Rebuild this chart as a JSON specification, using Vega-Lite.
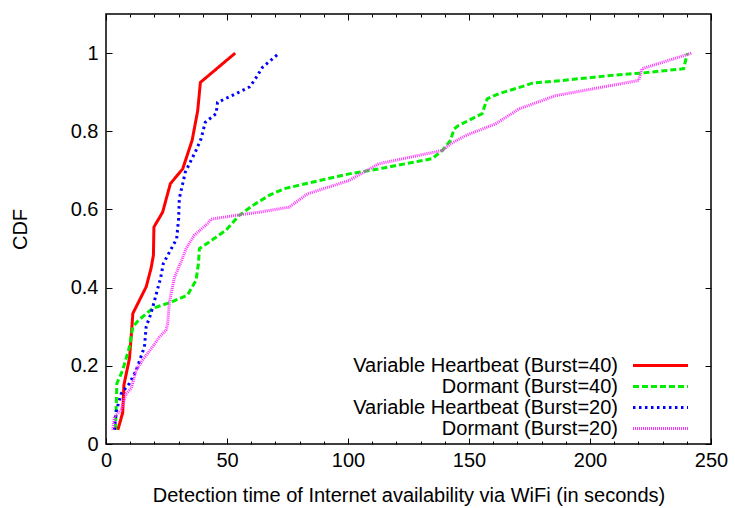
{
  "$schema": "https://vega.github.io/schema/vega-lite/v6.json",
  "width": 605,
  "height": 430,
  "autosize": {"type": "none"},
  "padding": {"left": 106, "top": 14, "right": 24, "bottom": 64},
  "background": "white",
  "config": {
    "font": "Liberation Sans",
    "view": {"stroke": "#000000", "strokeWidth": 1.5},
    "axis": {
      "grid": false,
      "domain": false,
      "tickColor": "#000000",
      "tickWidth": 1,
      "labelFont": "Liberation Sans",
      "labelFontSize": 20,
      "labelColor": "#000000",
      "titleFont": "Liberation Sans",
      "titleFontSize": 20,
      "titleFontWeight": "normal",
      "titleColor": "#000000"
    },
    "legend": {
      "title": null,
      "orient": "none",
      "legendX": 525,
      "legendY": 341,
      "padding": 0,
      "symbolType": "M-3.2,0H3.2",
      "symbolSize": 296,
      "symbolStrokeWidth": 3,
      "symbolOffset": 19,
      "labelAlign": "right",
      "labelOffset": -53,
      "labelFont": "Liberation Sans",
      "labelFontSize": 20,
      "labelColor": "#000000",
      "labelLimit": 0,
      "rowPadding": 0
    }
  },
  "datasets": {
    "cdf": [
      {"series": "Variable Heartbeat (Burst=40)", "t": 4.9, "p": 0.036},
      {"series": "Variable Heartbeat (Burst=40)", "t": 6.9, "p": 0.080},
      {"series": "Variable Heartbeat (Burst=40)", "t": 7.4, "p": 0.151},
      {"series": "Variable Heartbeat (Burst=40)", "t": 9.7, "p": 0.219},
      {"series": "Variable Heartbeat (Burst=40)", "t": 10.4, "p": 0.274},
      {"series": "Variable Heartbeat (Burst=40)", "t": 11.1, "p": 0.334},
      {"series": "Variable Heartbeat (Burst=40)", "t": 16.6, "p": 0.402},
      {"series": "Variable Heartbeat (Burst=40)", "t": 18.6, "p": 0.449},
      {"series": "Variable Heartbeat (Burst=40)", "t": 19.6, "p": 0.483},
      {"series": "Variable Heartbeat (Burst=40)", "t": 19.8, "p": 0.555},
      {"series": "Variable Heartbeat (Burst=40)", "t": 23.4, "p": 0.593},
      {"series": "Variable Heartbeat (Burst=40)", "t": 26.6, "p": 0.666},
      {"series": "Variable Heartbeat (Burst=40)", "t": 31.7, "p": 0.704},
      {"series": "Variable Heartbeat (Burst=40)", "t": 35.6, "p": 0.777},
      {"series": "Variable Heartbeat (Burst=40)", "t": 37.9, "p": 0.853},
      {"series": "Variable Heartbeat (Burst=40)", "t": 39.0, "p": 0.925},
      {"series": "Variable Heartbeat (Burst=40)", "t": 53.4, "p": 1.0},

      {"series": "Dormant (Burst=40)", "t": 3.9, "p": 0.036},
      {"series": "Dormant (Burst=40)", "t": 4.5, "p": 0.155},
      {"series": "Dormant (Burst=40)", "t": 6.9, "p": 0.189},
      {"series": "Dormant (Burst=40)", "t": 9.7, "p": 0.249},
      {"series": "Dormant (Burst=40)", "t": 11.1, "p": 0.300},
      {"series": "Dormant (Burst=40)", "t": 13.5, "p": 0.317},
      {"series": "Dormant (Burst=40)", "t": 19.3, "p": 0.347},
      {"series": "Dormant (Burst=40)", "t": 26.9, "p": 0.363},
      {"series": "Dormant (Burst=40)", "t": 33.7, "p": 0.381},
      {"series": "Dormant (Burst=40)", "t": 37.2, "p": 0.419},
      {"series": "Dormant (Burst=40)", "t": 38.2, "p": 0.461},
      {"series": "Dormant (Burst=40)", "t": 38.6, "p": 0.500},
      {"series": "Dormant (Burst=40)", "t": 42.7, "p": 0.517},
      {"series": "Dormant (Burst=40)", "t": 49.6, "p": 0.547},
      {"series": "Dormant (Burst=40)", "t": 55.1, "p": 0.585},
      {"series": "Dormant (Burst=40)", "t": 60.6, "p": 0.610},
      {"series": "Dormant (Burst=40)", "t": 67.4, "p": 0.636},
      {"series": "Dormant (Burst=40)", "t": 73.6, "p": 0.653},
      {"series": "Dormant (Burst=40)", "t": 79.8, "p": 0.662},
      {"series": "Dormant (Burst=40)", "t": 100.4, "p": 0.691},
      {"series": "Dormant (Burst=40)", "t": 112.8, "p": 0.704},
      {"series": "Dormant (Burst=40)", "t": 134.8, "p": 0.730},
      {"series": "Dormant (Burst=40)", "t": 139.0, "p": 0.751},
      {"series": "Dormant (Burst=40)", "t": 142.4, "p": 0.777},
      {"series": "Dormant (Burst=40)", "t": 143.8, "p": 0.806},
      {"series": "Dormant (Burst=40)", "t": 145.8, "p": 0.815},
      {"series": "Dormant (Burst=40)", "t": 155.4, "p": 0.845},
      {"series": "Dormant (Burst=40)", "t": 157.5, "p": 0.883},
      {"series": "Dormant (Burst=40)", "t": 162.3, "p": 0.896},
      {"series": "Dormant (Burst=40)", "t": 173.3, "p": 0.917},
      {"series": "Dormant (Burst=40)", "t": 176.1, "p": 0.923},
      {"series": "Dormant (Burst=40)", "t": 188.5, "p": 0.930},
      {"series": "Dormant (Burst=40)", "t": 209.1, "p": 0.943},
      {"series": "Dormant (Burst=40)", "t": 221.5, "p": 0.949},
      {"series": "Dormant (Burst=40)", "t": 238.7, "p": 0.960},
      {"series": "Dormant (Burst=40)", "t": 240.0, "p": 0.994},
      {"series": "Dormant (Burst=40)", "t": 240.3, "p": 1.0},

      {"series": "Variable Heartbeat (Burst=20)", "t": 3.5, "p": 0.036},
      {"series": "Variable Heartbeat (Burst=20)", "t": 4.2, "p": 0.083},
      {"series": "Variable Heartbeat (Burst=20)", "t": 6.3, "p": 0.129},
      {"series": "Variable Heartbeat (Burst=20)", "t": 9.7, "p": 0.155},
      {"series": "Variable Heartbeat (Burst=20)", "t": 12.5, "p": 0.189},
      {"series": "Variable Heartbeat (Burst=20)", "t": 15.9, "p": 0.249},
      {"series": "Variable Heartbeat (Burst=20)", "t": 16.6, "p": 0.300},
      {"series": "Variable Heartbeat (Burst=20)", "t": 18.6, "p": 0.334},
      {"series": "Variable Heartbeat (Burst=20)", "t": 22.5, "p": 0.423},
      {"series": "Variable Heartbeat (Burst=20)", "t": 23.7, "p": 0.462},
      {"series": "Variable Heartbeat (Burst=20)", "t": 29.2, "p": 0.525},
      {"series": "Variable Heartbeat (Burst=20)", "t": 30.0, "p": 0.576},
      {"series": "Variable Heartbeat (Burst=20)", "t": 30.3, "p": 0.628},
      {"series": "Variable Heartbeat (Burst=20)", "t": 32.8, "p": 0.696},
      {"series": "Variable Heartbeat (Burst=20)", "t": 37.2, "p": 0.751},
      {"series": "Variable Heartbeat (Burst=20)", "t": 39.3, "p": 0.781},
      {"series": "Variable Heartbeat (Burst=20)", "t": 41.0, "p": 0.823},
      {"series": "Variable Heartbeat (Burst=20)", "t": 45.5, "p": 0.845},
      {"series": "Variable Heartbeat (Burst=20)", "t": 46.1, "p": 0.874},
      {"series": "Variable Heartbeat (Burst=20)", "t": 53.7, "p": 0.896},
      {"series": "Variable Heartbeat (Burst=20)", "t": 59.2, "p": 0.913},
      {"series": "Variable Heartbeat (Burst=20)", "t": 61.3, "p": 0.930},
      {"series": "Variable Heartbeat (Burst=20)", "t": 64.7, "p": 0.964},
      {"series": "Variable Heartbeat (Burst=20)", "t": 71.6, "p": 1.0},

      {"series": "Dormant (Burst=20)", "t": 2.8, "p": 0.036},
      {"series": "Dormant (Burst=20)", "t": 3.5, "p": 0.070},
      {"series": "Dormant (Burst=20)", "t": 6.3, "p": 0.087},
      {"series": "Dormant (Burst=20)", "t": 8.3, "p": 0.129},
      {"series": "Dormant (Burst=20)", "t": 10.4, "p": 0.142},
      {"series": "Dormant (Burst=20)", "t": 12.5, "p": 0.189},
      {"series": "Dormant (Burst=20)", "t": 15.2, "p": 0.215},
      {"series": "Dormant (Burst=20)", "t": 19.3, "p": 0.249},
      {"series": "Dormant (Burst=20)", "t": 22.1, "p": 0.274},
      {"series": "Dormant (Burst=20)", "t": 24.8, "p": 0.291},
      {"series": "Dormant (Burst=20)", "t": 25.5, "p": 0.308},
      {"series": "Dormant (Burst=20)", "t": 26.2, "p": 0.363},
      {"series": "Dormant (Burst=20)", "t": 28.3, "p": 0.427},
      {"series": "Dormant (Burst=20)", "t": 31.0, "p": 0.466},
      {"series": "Dormant (Burst=20)", "t": 33.1, "p": 0.500},
      {"series": "Dormant (Burst=20)", "t": 36.5, "p": 0.534},
      {"series": "Dormant (Burst=20)", "t": 42.0, "p": 0.564},
      {"series": "Dormant (Burst=20)", "t": 43.4, "p": 0.575},
      {"series": "Dormant (Burst=20)", "t": 53.7, "p": 0.585},
      {"series": "Dormant (Burst=20)", "t": 63.3, "p": 0.593},
      {"series": "Dormant (Burst=20)", "t": 75.7, "p": 0.606},
      {"series": "Dormant (Burst=20)", "t": 83.3, "p": 0.640},
      {"series": "Dormant (Burst=20)", "t": 100.4, "p": 0.674},
      {"series": "Dormant (Burst=20)", "t": 112.8, "p": 0.717},
      {"series": "Dormant (Burst=20)", "t": 139.0, "p": 0.751},
      {"series": "Dormant (Burst=20)", "t": 142.4, "p": 0.768},
      {"series": "Dormant (Burst=20)", "t": 148.6, "p": 0.789},
      {"series": "Dormant (Burst=20)", "t": 161.0, "p": 0.819},
      {"series": "Dormant (Burst=20)", "t": 170.6, "p": 0.857},
      {"series": "Dormant (Burst=20)", "t": 185.7, "p": 0.891},
      {"series": "Dormant (Burst=20)", "t": 220.1, "p": 0.930},
      {"series": "Dormant (Burst=20)", "t": 221.5, "p": 0.960},
      {"series": "Dormant (Burst=20)", "t": 242.1, "p": 1.0}
    ]
  },
  "data": {"name": "cdf"},
  "layer": [
    {
      "mark": {"type": "line", "strokeWidth": 3, "strokeCap": "butt"},
      "encoding": {
        "x": {
          "field": "t", "type": "quantitative",
          "scale": {"domain": [0, 250], "nice": false, "zero": false},
          "axis": {
            "orient": "bottom",
            "title": "Detection time of Internet availability via WiFi (in seconds)",
            "values": [0,10,20,30,40,50,60,70,80,90,100,110,120,130,140,150,160,170,180,190,200,210,220,230,240,250],
            "labelExpr": "datum.value % 50 === 0 ? datum.label : ''",
            "tickSize": {"condition": {"test": "datum.value % 50 === 0", "value": -6}, "value": -3},
            "labelPadding": 12,
            "titlePadding": 12,
            "labelFlush": false,
            "labelOverlap": false
          }
        },
        "y": {
          "field": "p", "type": "quantitative",
          "scale": {"domain": [0, 1.1], "nice": false, "zero": false},
          "axis": {
            "orient": "left",
            "title": "CDF",
            "values": [0, 0.2, 0.4, 0.6, 0.8, 1.0],
            "format": ".1~f",
            "tickSize": -6,
            "labelPadding": 14,
            "titlePadding": 40,
            "labelFlush": false,
            "labelOverlap": false
          }
        },
        "color": {
          "field": "series", "type": "nominal",
          "scale": {
            "domain": ["Variable Heartbeat (Burst=40)", "Dormant (Burst=40)", "Variable Heartbeat (Burst=20)", "Dormant (Burst=20)"],
            "range": ["#ff0000", "#00ee00", "#0000ff", "#ff33ff"]
          }
        },
        "strokeDash": {
          "field": "series", "type": "nominal",
          "scale": {
            "domain": ["Variable Heartbeat (Burst=40)", "Dormant (Burst=40)", "Variable Heartbeat (Burst=20)", "Dormant (Burst=20)"],
            "range": [[1, 0], [6, 3], [2.5, 3.5], [1, 1]]
          }
        }
      }
    },
    {
      "mark": {"type": "line", "opacity": 0},
      "encoding": {
        "x": {
          "field": "t", "type": "quantitative",
          "axis": {
            "orient": "top",
            "title": null,
            "labels": false,
            "values": [0,10,20,30,40,50,60,70,80,90,100,110,120,130,140,150,160,170,180,190,200,210,220,230,240,250],
            "tickSize": {"condition": {"test": "datum.value % 50 === 0", "value": -6}, "value": -3}
          }
        },
        "y": {
          "field": "p", "type": "quantitative",
          "axis": {
            "orient": "right",
            "title": null,
            "labels": false,
            "values": [0, 0.2, 0.4, 0.6, 0.8, 1.0],
            "tickSize": -6
          }
        },
        "detail": {"field": "series"}
      }
    }
  ],
  "resolve": {"axis": {"x": "independent", "y": "independent"}}
}
